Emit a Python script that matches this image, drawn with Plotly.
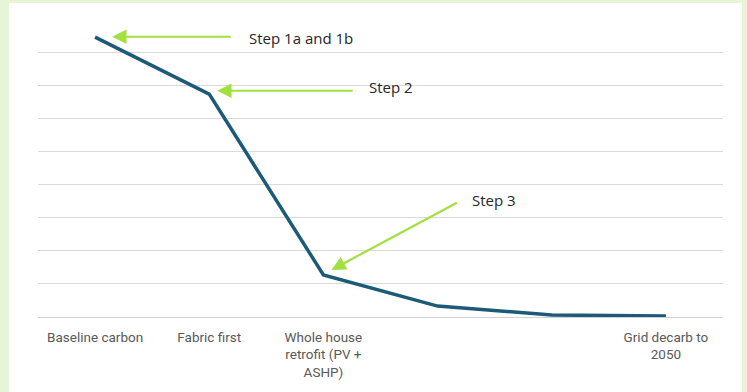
import plotly.graph_objects as go

categories = ["Baseline carbon", "Fabric first", "Whole house retrofit (PV + ASHP)", "Step 4", "Step 5", "Grid decarb to 2050"]
tick_labels = ["Baseline carbon", "Fabric first", "Whole house<br>retrofit (PV +<br>ASHP)", "", "", "Grid decarb to<br>2050"]
carbon = [8.45, 6.73, 1.27, 0.33, 0.06, 0.03]
step_labels = ["Step 1a and 1b", "Step 2", "Step 3"]

W, H = 747, 392
L, R, T, B = 38, 24, 20, 75
pw, ph = W - L - R, H - T - B
ymax = 8.966

def px_to_paper(x, y):
    return (x - L) / pw, (H - B - y) / ph

fig = go.Figure()
fig.add_trace(go.Scatter(
    x=list(range(len(categories))), y=carbon, mode="lines",
    line=dict(color="#1d5a78", width=3.5), hoverinfo="skip", showlegend=False,
))

x0, y1 = px_to_paper(9, 3)
x1, y0 = px_to_paper(742, 395)
fig.add_shape(type="rect", xref="paper", yref="paper", x0=x0, x1=x1, y0=y0, y1=y1,
              fillcolor="white", line=dict(width=0), layer="below")

green = "#a2e040"
arrows = [
    (0.15, 8.46, 120, 0),
    (0.07 + 1, 6.83, 137, 0),
    (0.07 + 2, 1.42, 127, -68),
]
for hx, hy, ax, ay in arrows:
    fig.add_annotation(x=hx, y=hy, xref="x", yref="y", ax=ax, ay=ay, axref="pixel", ayref="pixel",
                       text="", showarrow=True, arrowhead=2, arrowsize=1.3, arrowwidth=2.2,
                       arrowcolor=green, standoff=0, startstandoff=0)

texts = [(247, 38), (367, 87), (470, 200)]
for (tx, ty), lab in zip(texts, step_labels):
    px, py = px_to_paper(tx, ty)
    fig.add_annotation(x=px, y=py, xref="paper", yref="paper", text=lab, showarrow=False,
                       xanchor="left", yanchor="middle",
                       font=dict(family="Open Sans", size=15, color="#262626"))

fig.update_layout(
    width=W, height=H, margin=dict(l=L, r=R, t=T, b=B),
    paper_bgcolor="#e6f5d7", plot_bgcolor="white",
    xaxis=dict(range=[-0.5, len(categories) - 0.5], tickvals=list(range(len(categories))),
               ticktext=tick_labels, showgrid=False, zeroline=False, showline=False, ticks="",
               ticklabelstandoff=10,
               tickfont=dict(family="Roboto", size=13.5, color="#595959")),
    yaxis=dict(range=[0, ymax], dtick=1, showgrid=True, gridcolor="#d9d9d9", gridwidth=1,
               zeroline=True, zerolinecolor="#d0d0d0", zerolinewidth=1.2,
               showticklabels=False, ticks=""),
)
fig.write_html("out.html", config={"displayModeBar": False},
               post_script="document.body.style.margin='0';document.body.style.overflow='hidden';")
